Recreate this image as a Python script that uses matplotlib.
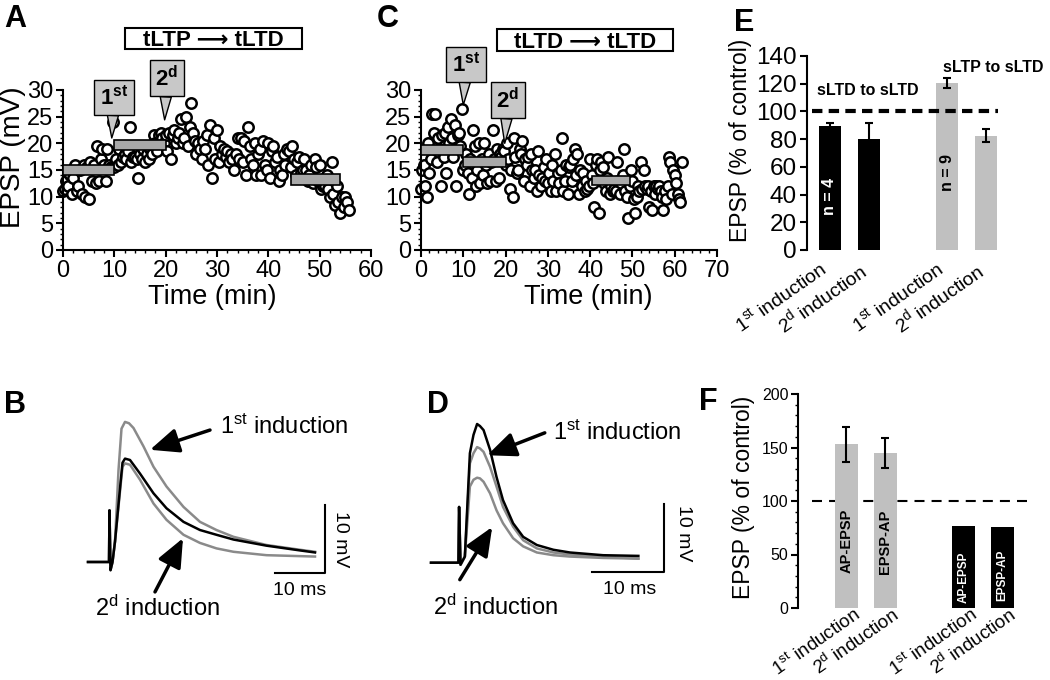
import numpy as np
import matplotlib
matplotlib.use('Agg')
import matplotlib.pyplot as plt
from matplotlib.ticker import MultipleLocator
from matplotlib.transforms import ScaledTranslation
from matplotlib.patches import Rectangle

plt.rcParams['font.family'] = ['Liberation Sans', 'DejaVu Sans']
plt.rcParams['mathtext.fontset'] = 'custom'
plt.rcParams['mathtext.rm'] = 'Liberation Sans'
plt.rcParams['mathtext.it'] = 'Liberation Sans:italic'
plt.rcParams['mathtext.bf'] = 'Liberation Sans:bold'

########## A: tLTP -> tLTD, one EPSP every 20 s (mV) ##########
sample_min = 1.0 / 3.0
epsp_a = [
    11, 11.5, 13, 12, 14, 10.5, 13.5, 16, 11, 12, 15, 10.5, 16, 10, 15.5,
    9.5, 16.5, 13, 16, 12.5, 19.5, 13, 17, 19, 16, 13, 19, 16, 15.5, 24,
    15.5, 17, 16, 19, 16.5, 17.5, 18, 17, 18.5, 23, 16.5, 17.5, 17.5, 17, 13.5,
    18, 17, 19, 16.5, 18, 17, 19, 18, 21.5, 20, 18.5, 21.5, 22, 21, 20,
    21.5, 18.5, 22, 17, 21.5, 22.5, 20, 21, 22, 24.5, 20, 21, 25, 19.5, 23,
    27.5, 22, 20.5, 18, 20, 19, 17, 20.5, 19, 21.5, 16, 23.5, 13.5, 21, 17,
    22.5, 16.5, 19.5, 18, 19, 17.5, 18.5, 16.5, 18, 17, 15, 18, 21, 17, 21,
    16.5, 20.5, 14, 23, 19.5, 17, 16, 20, 14, 18, 19, 14, 20.5, 16, 15,
    20, 13.5, 18.5, 19.5, 16.5, 17.5, 13, 15, 14, 18, 16, 19, 18.5, 15.5, 19.5,
    17, 14, 16.5, 17.5, 14.5, 15, 17, 15, 13, 14, 16, 12.5, 17, 15.5, 13,
    16, 11.5, 12, 12, 14, 11.5, 10, 16.5, 10.5, 8.5, 12, 9, 7, 10, 8,
    10, 9, 7.5,
]
# mean bars (start, end, low, high)
mean_a_start = [0, 10, 44.5]
mean_a_end = [10, 20, 54]
mean_a_low = [14, 18.8, 12.2]
mean_a_high = [16, 20.6, 14.2]

########## C: tLTD -> tLTD ##########
epsp_c = [
    11.5, 15, 16, 12, 10, 20, 14.5, 17, 25.5, 22, 25.5, 16.5, 21, 19, 12,
    21.5, 17.5, 22, 14.5, 23, 20, 24.5, 21, 17.5, 23.5, 12, 21.5, 22, 19.5, 26.5,
    15, 16, 18, 14.5, 10.5, 17, 13.5, 22.5, 19.5, 12, 15, 20, 12.5, 17, 14,
    20, 16, 12.5, 18, 13, 16.5, 22.5, 17, 13, 19, 13.5, 18, 17.5, 19, 18.5,
    16, 20, 17, 11.5, 15, 10, 21, 17.5, 14.5, 15, 19, 18, 20.5, 13, 17,
    16, 17.5, 12, 18, 15, 13.5, 15, 11, 18.5, 14, 12, 13.5, 15.5, 13, 17,
    12.5, 14.5, 11, 16, 13, 18, 11, 14.5, 12.5, 15, 21, 11, 13, 16, 10.5,
    15.5, 16, 13, 17, 19, 14, 18, 10.5, 15, 12, 14.5, 11, 13, 11.5, 12,
    17, 14, 12.5, 8, 16, 17, 7, 15, 16.5, 15.5, 12.5, 11, 13.5, 17.5, 10.5,
    12, 11, 11.5, 11, 16.5, 13, 10.5, 12.5, 14, 19, 11, 10, 6, 12, 15,
    13, 9.5, 7, 10, 12, 11, 16.5, 11.5, 15, 12, 11.5, 12, 8, 11, 7.5,
    12, 10.5, 12, 11.5, 12, 11, 10, 7.5, 11, 9.5, 12, 17.5, 16.5, 10.5, 15,
    14, 12.5, 10.5, 9.5, 9, 16.5,
]
mean_c_start = [0, 10, 40.5]
mean_c_end = [10, 20, 49.5]
mean_c_low = [17.8, 15.6, 12.2]
mean_c_high = [19.6, 17.4, 13.9]

########## B: EPSP traces (ms, mV) ##########
b_t_ctrl = [0, 4.2, 4.3, 4.5, 4.9, 5.4, 6.5, 6.9, 7.4, 8.4, 10.4, 13.1, 15.7, 19.1, 22.4, 25.7, 29.1, 35.7, 42.4, 45.4]
b_v_ctrl = [0, 0, 7.6, -1.2, 0, 3, 11.6, 14.6, 15.2, 15.0, 13.0, 10.1, 7.9, 5.9, 4.7, 4.0, 3.3, 2.4, 1.7, 1.4]
b_t_1st = [0, 4.2, 4.3, 4.5, 4.9, 5.4, 6.1, 6.7, 7.4, 8.2, 9.1, 11.1, 13.1, 15.7, 19.1, 22.4, 25.7, 29.1, 35.7, 42.4, 45.4]
b_v_1st = [0, 0, 7.6, -1.2, 0, 3, 13.5, 19.6, 20.6, 20.4, 19.7, 17.0, 14.0, 11.1, 8.1, 5.9, 4.7, 3.7, 2.5, 1.8, 1.5]
b_t_2nd = [0, 4.2, 4.3, 4.5, 4.9, 5.4, 6.5, 6.9, 7.4, 8.4, 10.4, 13.1, 15.7, 19.1, 22.4, 25.7, 29.1, 35.7, 45.4]
b_v_2nd = [0, 0, 7.6, -1.2, 0, 3, 11.1, 14.0, 14.5, 14.3, 12.1, 8.6, 6.2, 4.0, 2.8, 2.0, 1.5, 1.0, 0.8]

########## D: EPSP traces (ms, mV) ##########
d_t = [0, 3.8, 3.9, 4.1, 4.7, 5.4, 5.9, 6.4, 6.8, 7.3, 8.2, 9.1, 10.0, 11.4, 12.8, 14.7, 17.0, 19.3, 23.9, 28.8]
d_v_ctrl = [0, 0, 8.2, -0.3, 0.9, 16.1, 18.8, 20.4, 20.1, 19.5, 16.6, 12.6, 9.2, 5.8, 3.8, 2.6, 1.9, 1.5, 1.1, 1.0]
d_v_1st = [0, 0, 8.2, -0.3, 0.9, 14.6, 16.1, 17.0, 16.8, 16.3, 14.1, 11.2, 8.2, 5.3, 3.3, 2.1, 1.5, 1.2, 0.9, 0.6]
d_v_2nd = [0, 0, 8.2, -0.3, 0.9, 11.2, 12.2, 12.5, 12.4, 11.9, 10.2, 7.7, 5.8, 3.6, 2.4, 1.5, 1.1, 0.9, 0.7, 0.6]

########## E, F: summary bars (% of control) ##########
bar_pos = [0, 1, 3, 4]
bar_labels = [r'1$^{\mathrm{st}}$ induction', r'2$^{\mathrm{d}}$ induction',
              r'1$^{\mathrm{st}}$ induction', r'2$^{\mathrm{d}}$ induction']
e_values = [89.7, 80, 120.5, 82.4]
e_err = [1.9, 11.6, 3.3, 4.8]
e_colors = ['black', 'black', '#c0c0c0', '#c0c0c0']
f_values = [153, 145, 77, 75.5]
f_err = [16.5, 14, 0, 0]
f_colors = ['#c0c0c0', '#c0c0c0', 'black', 'black']
f_text = ['AP-EPSP', 'EPSP-AP', 'AP-EPSP', 'EPSP-AP']
control_level = 100

gray = '#8a8a8a'
W, H = 1050., 680.


def box(l, t, r, b):
    return [l / W, 1 - b / H, (r - l) / W, (b - t) / H]


fig = plt.figure(figsize=(10.5, 6.8), dpi=100)

axA = fig.add_axes(box(63, 90, 371, 250))
axC = fig.add_axes(box(421, 90, 717, 250))
axE = fig.add_axes(box(806.6, 56, 1001.6, 250))
axB = fig.add_axes(box(80, 400, 360, 620))
axD = fig.add_axes(box(420, 400, 700, 620))
axF = fig.add_axes(box(798, 394, 1033, 608))


def time_axes(ax, xmax):
    ax.set_xlim(0, xmax)
    ax.set_ylim(0, 30)
    ax.spines['top'].set_visible(False)
    ax.spines['right'].set_visible(False)
    ax.spines['left'].set_linewidth(1.5)
    ax.spines['bottom'].set_linewidth(1.5)
    ax.xaxis.set_major_locator(MultipleLocator(10))
    ax.xaxis.set_minor_locator(MultipleLocator(2))
    ax.yaxis.set_major_locator(MultipleLocator(5))
    ax.yaxis.set_minor_locator(MultipleLocator(1))
    ax.tick_params(which='major', direction='out', length=5, width=1.5, labelsize=17, pad=2)
    ax.tick_params(which='minor', direction='out', length=2.5, width=1)


def callout(ax, s, tip, center):
    ax.annotate(s, xy=tip, xytext=center, ha='center', va='center', fontsize=16,
                annotation_clip=False, zorder=5,
                bbox=dict(boxstyle='square,pad=0.25', fc='#c8c8c8', ec='k', lw=1),
                arrowprops=dict(arrowstyle='wedge,tail_width=0.5,shrink_factor=0.5',
                                fc='#c8c8c8', ec='k', lw=1, shrinkA=0, shrinkB=0))


def shift_labels(labels, dx, dy):
    for lab in labels:
        lab.set_transform(lab.get_transform() + ScaledTranslation(dx / 100., dy / 100., fig.dpi_scale_trans))


# ---- A
ta = np.arange(len(epsp_a)) * sample_min
axA.plot(ta, epsp_a, 'o', mfc='white', mec='k', ms=7.5, mew=1.8, clip_on=False, zorder=2)
axA.bar(mean_a_start, np.subtract(mean_a_high, mean_a_low), width=np.subtract(mean_a_end, mean_a_start),
        bottom=mean_a_low, align='edge', color='#a9a9a9', edgecolor='k', linewidth=1.2, zorder=3)
time_axes(axA, 60)
callout(axA, r'$\mathbf{1^{st}}$', (9.5, 21), (9.9, 28.6))
callout(axA, r'$\mathbf{2^{d}}$', (19.8, 24.4), (20.2, 32.2))
axA.text(-0.162, 0.58, 'EPSP (mV)', rotation=90, ha='center', va='center', fontsize=20, transform=axA.transAxes)
axA.text(0.484, -0.294, 'Time (min)', ha='center', va='center', fontsize=19.5, transform=axA.transAxes)

# ---- C
tc = np.arange(len(epsp_c)) * sample_min
axC.plot(tc, epsp_c, 'o', mfc='white', mec='k', ms=7.5, mew=1.8, clip_on=False, zorder=2)
axC.bar(mean_c_start, np.subtract(mean_c_high, mean_c_low), width=np.subtract(mean_c_end, mean_c_start),
        bottom=mean_c_low, align='edge', color='#a9a9a9', edgecolor='k', linewidth=1.2, zorder=3)
time_axes(axC, 70)
callout(axC, r'$\mathbf{1^{st}}$', (10, 27.2), (10.6, 34.8))
callout(axC, r'$\mathbf{2^{d}}$', (19.8, 20), (20.5, 28.1))
axC.text(0.564, -0.294, 'Time (min)', ha='center', va='center', fontsize=19.5, transform=axC.transAxes)

# protocol boxes (left, top, right, bottom in pixels)
for txt, l, t, r, b in [('tLTP \u27f6 tLTD', 125, 28, 302, 49), ('tLTD \u27f6 tLTD', 497, 29, 673, 51)]:
    fig.patches.append(Rectangle((l / W, 1 - b / H), (r - l) / W, (b - t) / H, transform=fig.transFigure,
                                 facecolor='white', edgecolor='k', lw=1.5))
    fig.text((l + r) / 2 / W, 1 - (t + b) / 2 / H, txt, ha='center', va='center_baseline',
             fontsize=16, fontweight='bold')

# ---- E
axE.bar(bar_pos, e_values, width=0.57, color=e_colors, zorder=2)
axE.errorbar(bar_pos, e_values, yerr=e_err, fmt='none', ecolor='k', elinewidth=1.5,
             capsize=3, capthick=1.5, zorder=3)
axE.hlines(control_level, -0.46, 4.31, colors='k', lw=3, linestyles=(0, (2.5, 1.5)), zorder=4)
axE.set_xlim(-0.6, 4.4)
axE.set_ylim(0, 140)
axE.yaxis.set_major_locator(MultipleLocator(20))
for s in ['top', 'right', 'bottom']:
    axE.spines[s].set_visible(False)
axE.spines['left'].set_linewidth(1.5)
axE.tick_params(axis='y', direction='out', length=5, width=1.5, labelsize=17.5, pad=2)
axE.set_xticks(bar_pos)
axE.set_xticklabels(bar_labels, rotation=35, ha='right', va='top', rotation_mode='anchor', fontsize=14)
axE.tick_params(axis='x', length=0, pad=6)
shift_labels(axE.get_xticklabels(), -12, 0)
axE.text(0, 39, 'n = 4', rotation=90, ha='center', va='center', color='white', fontsize=11.5, fontweight='bold')
axE.text(3, 56, 'n = 9', rotation=90, ha='center', va='center', color='black', fontsize=11.5, fontweight='bold')
axE.text(0.97, 115, 'sLTD to sLTD', ha='center', va='center', fontsize=11.5, fontweight='bold')
axE.text(4.18, 131.5, 'sLTP to sLTD', ha='center', va='center', fontsize=11.5, fontweight='bold', clip_on=False)
axE.text(-0.34, 0.565, 'EPSP (% of control)', rotation=90, ha='center', va='center', fontsize=16.5,
         transform=axE.transAxes)

# ---- B
axB.plot(b_t_ctrl, b_v_ctrl, color='k', lw=1.8, zorder=3)
axB.plot(b_t_1st, b_v_1st, color=gray, lw=1.8, zorder=2)
axB.plot(b_t_2nd, b_v_2nd, color=gray, lw=1.8, zorder=2)
axB.set_xlim(-1.6, 54.4)
axB.set_ylim(-8.53, 23.82)
axB.axis('off')
axB.plot([37.4, 47.4, 47.4], [-1.57, -1.57, 8.4], color='k', lw=1.5)
axB.text(42.4, -4.2, '10 ms', ha='center', va='center', fontsize=14)
axB.text(50.4, 3.4, '10 mV', rotation=-90, ha='center', va='center', fontsize=14)
arrow_kw = dict(arrowstyle='-|>,head_length=0.7,head_width=0.3', mutation_scale=25, lw=2.5,
                color='k', shrinkA=0, shrinkB=0)
axB.annotate('', xy=(12.4, 16.5), xytext=(24.4, 19.4), arrowprops=arrow_kw)
axB.annotate('', xy=(19, 3.5), xytext=(13.4, -4.4), arrowprops=arrow_kw)
axB.text(26.4, 19.9, r'1$^{\mathrm{st}}$ induction', ha='left', va='center', fontsize=17)
axB.text(1.4, -6.8, r'2$^{\mathrm{d}}$ induction', ha='left', va='center', fontsize=17)

# ---- D
axD.plot(d_t, d_v_ctrl, color='k', lw=1.8, zorder=3)
axD.plot(d_t, d_v_1st, color=gray, lw=1.8, zorder=2)
axD.plot(d_t, d_v_2nd, color=gray, lw=1.8, zorder=2)
axD.set_xlim(-1.53, 37.36)
axD.set_ylim(-8.43, 23.93)
axD.axis('off')
axD.plot([22.3, 32.3, 32.3], [-1.3, -1.3, 8.7], color='k', lw=1.5)
axD.text(27.6, -4.0, '10 ms', ha='center', va='center', fontsize=14)
axD.text(35.0, 4.4, '10 mV', rotation=-90, ha='center', va='center', fontsize=14)
axD.annotate('', xy=(7.8, 15.8), xytext=(15.8, 19.1), arrowprops=arrow_kw)
axD.annotate('', xy=(8.5, 5.25), xytext=(4.0, -2.5), arrowprops=arrow_kw)
axD.text(16.9, 19.1, r'1$^{\mathrm{st}}$ induction', ha='left', va='center', fontsize=17)
axD.text(0.3, -6.5, r'2$^{\mathrm{d}}$ induction', ha='left', va='center', fontsize=17)

# ---- F
axF.bar(bar_pos, f_values, width=0.6, color=f_colors, zorder=2)
axF.errorbar(bar_pos[:2], f_values[:2], yerr=f_err[:2], fmt='none', ecolor='k', elinewidth=1.5,
             capsize=3, capthick=1.5, zorder=3)
axF.hlines(control_level, -0.87, 4.78, colors='k', lw=1.5, linestyles=(0, (4.8, 3.4)), zorder=1)
axF.set_xlim(-1.24, 4.78)
axF.set_ylim(0, 200)
axF.yaxis.set_major_locator(MultipleLocator(50))
axF.yaxis.set_minor_locator(MultipleLocator(10))
for s in ['top', 'right', 'bottom']:
    axF.spines[s].set_visible(False)
axF.spines['left'].set_linewidth(1.5)
axF.tick_params(axis='y', which='major', direction='out', length=5, width=1.5, labelsize=11.5, pad=2)
axF.tick_params(axis='y', which='minor', direction='out', length=2.5, width=1)
axF.set_xticks(bar_pos)
axF.set_xticklabels(bar_labels, rotation=35, ha='right', va='top', rotation_mode='anchor', fontsize=13.5)
axF.tick_params(axis='x', length=0, pad=0)
shift_labels(axF.get_xticklabels(), 6, 3)
f_text_y = [63, 62, 28.5, 31]
f_text_size = [10.5, 10.5, 8.5, 8.5]
for p, s, y, c, fs in zip(bar_pos, f_text, f_text_y, f_colors, f_text_size):
    axF.text(p, y, s, rotation=90, ha='center', va='center', fontsize=fs, fontweight='bold',
             color='white' if c == 'black' else 'black', zorder=4)
axF.text(-0.234, 0.519, 'EPSP (% of control)', rotation=90, ha='center', va='center', fontsize=16.5,
         transform=axF.transAxes)

# panel letters
for s, x, y in [('A', 4, 4), ('C', 377, 4), ('E', 734, 8), ('B', 4, 390), ('D', 427, 390), ('F', 699, 387)]:
    fig.text(x / W, 1 - y / H, s, ha='left', va='top', fontsize=22, fontweight='bold')

plt.savefig('out.png', dpi=100)
